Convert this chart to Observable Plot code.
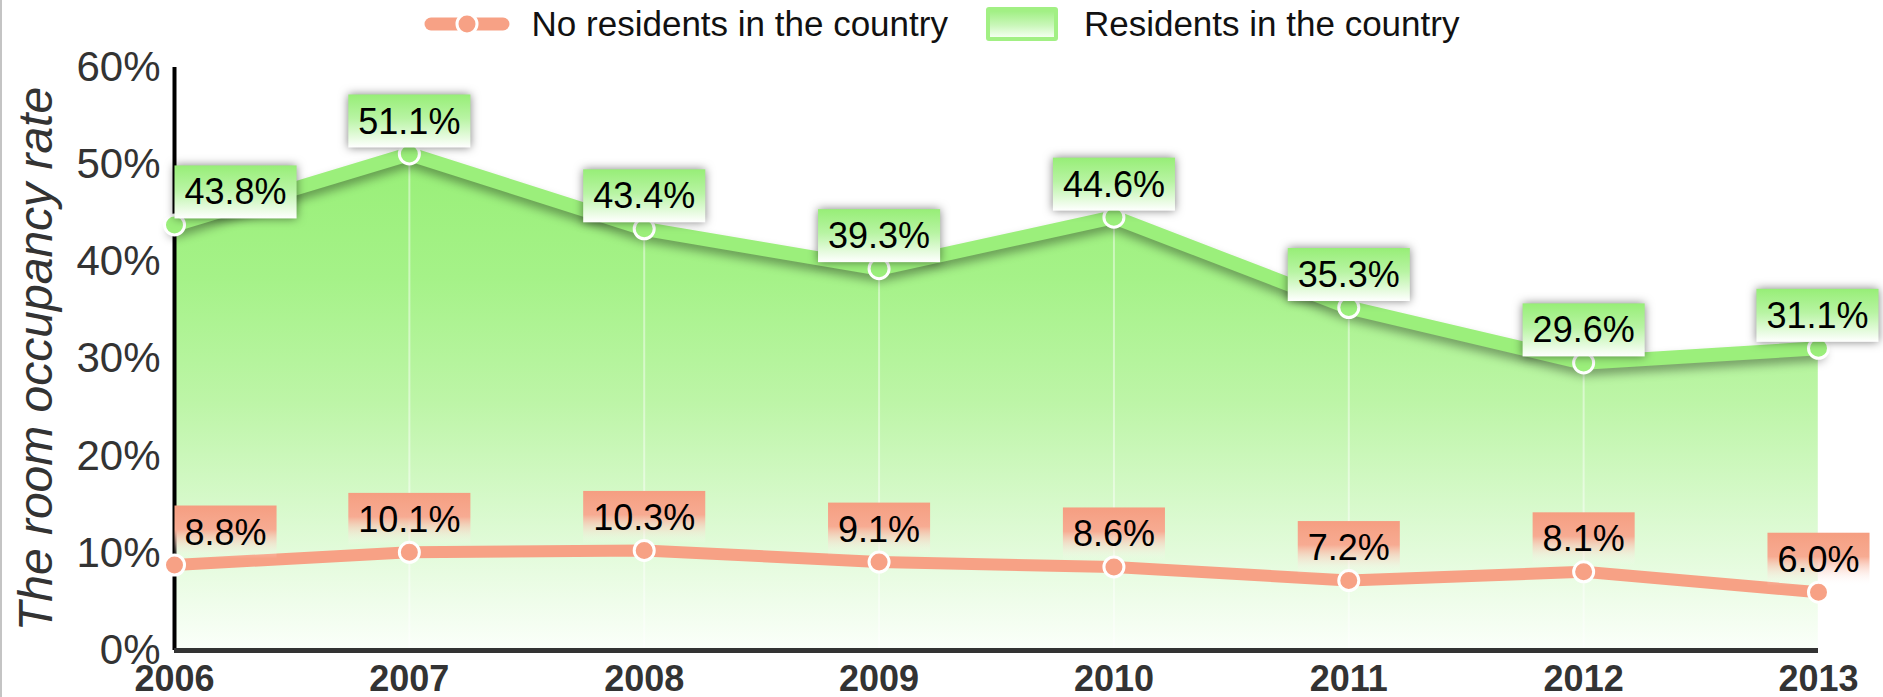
<!DOCTYPE html>
<html>
<head>
<meta charset="utf-8">
<script src="https://cdn.jsdelivr.net/npm/d3@7"></script>
<script src="https://cdn.jsdelivr.net/npm/@observablehq/plot@0.6"></script>
<style>
  html, body { margin: 0; padding: 0; background: #fff; overflow: hidden; }
  body { font-family: "Liberation Sans", Arial, sans-serif; }
  #wrap { position: relative; width: 1883px; height: 697px; }
  #edge { position: absolute; left: 0; top: 0; width: 2px; height: 697px; background: #c4c4c4; }
  #legend { height: 48px; display: flex; align-items: center; justify-content: center; font-size: 35px; color: #111; }
  #legend .item { display: flex; align-items: center; }
  #legend .swatch-rect { width: 72px; height: 34px; box-sizing: border-box; border: 4px solid #a2f084; border-radius: 3px;
    background: linear-gradient(#a1f084 0%, #c9f7b9 55%, #f4fff0 100%); margin-left: 38px; }
  #legend .lab1 { margin-left: 22px; }
  #legend .lab2 { margin-left: 26px; }
  #chart svg { display: block; }
</style>
</head>
<body>
<div id="wrap">
  <svg width="0" height="0" style="position:absolute">
    <defs>
      <linearGradient id="areaGrad" x1="0" y1="0" x2="0" y2="1">
        <stop offset="0" stop-color="#98ef77"/>
        <stop offset="0.25" stop-color="#a5f288"/>
        <stop offset="0.5" stop-color="#bdf5a7"/>
        <stop offset="0.75" stop-color="#dcfad2"/>
        <stop offset="1" stop-color="#fbfffa"/>
      </linearGradient>
      <linearGradient id="greenBox" x1="0" y1="0" x2="0" y2="1">
        <stop offset="0" stop-color="#97ee77"/>
        <stop offset="0.45" stop-color="#b8f4a3"/>
        <stop offset="1" stop-color="#ffffff"/>
      </linearGradient>
      <linearGradient id="orangeBox" x1="0" y1="0" x2="0" y2="1">
        <stop offset="0" stop-color="#f59e81"/>
        <stop offset="0.45" stop-color="#f7ab92"/>
        <stop offset="1" stop-color="#ffffff" stop-opacity="0"/>
      </linearGradient>
    </defs>
  </svg>
  <div id="legend"></div>
  <div id="chart"></div>
  <div id="edge"></div>
</div>
<script>
// ---- data ----
const years = [2006, 2007, 2008, 2009, 2010, 2011, 2012, 2013];
const residents = [43.8, 51.1, 43.4, 39.3, 44.6, 35.3, 29.6, 31.1];
const nonResidents = [8.8, 10.1, 10.3, 9.1, 8.6, 7.2, 8.1, 6.0];
const yTicks = [0, 10, 20, 30, 40, 50, 60];
const seriesNames = ["No residents in the country", "Residents in the country"];
const yLabel = "The room occupancy rate";

const green = "#9bef7b";
const orange = "#f7a185";

const rows = years.map((year, i) => ({year, residents: residents[i], nonResidents: nonResidents[i]}));

// ---- legend ----
const legend = document.getElementById("legend");
legend.innerHTML = `
  <div class="item">
    <svg width="86" height="30" viewBox="0 0 86 30">
      <line x1="7" y1="15" x2="79" y2="15" stroke="${orange}" stroke-width="13" stroke-linecap="round"/>
      <circle cx="43" cy="15" r="10" fill="${orange}" stroke="#fff" stroke-width="3"/>
    </svg>
    <span class="lab1">${seriesNames[0]}</span>
  </div>
  <div class="item">
    <div class="swatch-rect"></div>
    <span class="lab2">${seriesNames[1]}</span>
  </div>`;

// ---- chart ----
const W = 1883, H = 649, ML = 174, MR = 65, MT = 19, MB = 47;

const plot = Plot.plot({
  width: W,
  height: H,
  marginLeft: ML,
  marginRight: MR,
  marginTop: MT,
  marginBottom: MB,
  style: {fontFamily: '"Liberation Sans", Arial, sans-serif', background: "white", overflow: "visible"},
  x: {type: "linear", domain: [years[0], years[years.length - 1]]},
  y: {domain: [yTicks[0], yTicks[yTicks.length - 1]]},
  marks: [
    Plot.areaY(rows, {x: "year", y: "residents", fill: "url(#areaGrad)", ariaDescription: "green-area"}),
    Plot.ruleX(rows, {x: "year", y1: 0, y2: "residents", stroke: "white", strokeOpacity: 0.45, strokeWidth: 2}),
    Plot.ruleX([years[0]], {stroke: "black", strokeWidth: 4}),
    Plot.ruleY([0], {stroke: "#333", strokeWidth: 5}),
    Plot.axisY({ticks: yTicks, tickFormat: d => d + "%", tickSize: 0, tickPadding: 14, fontSize: 42, color: "#333", label: null}),
    Plot.axisX({ticks: years, tickFormat: d => String(d), tickSize: 0, tickPadding: 15, fontSize: 36, fontWeight: "bold", color: "#333", label: null}),
    Plot.text([yLabel], {frameAnchor: "left", textAnchor: "middle", dx: -138, rotate: -90, fontSize: 48, fontStyle: "italic", fill: "#333"}),
    Plot.lineY(rows, {x: "year", y: "residents", stroke: green, strokeWidth: 14, ariaDescription: "green-line"}),
    Plot.lineY(rows, {x: "year", y: "nonResidents", stroke: orange, strokeWidth: 12}),
    Plot.dot(rows, {x: "year", y: "residents", r: 10, fill: green, stroke: "white", strokeWidth: 3}),
    Plot.dot(rows, {x: "year", y: "nonResidents", r: 10, fill: orange, stroke: "white", strokeWidth: 3}),
    Plot.text(rows, {x: "year", y: "residents", text: d => d.residents.toFixed(1) + "%", dy: -32, fontSize: 36, fill: "black", ariaDescription: "green-labels"}),
    Plot.text(rows, {x: "year", y: "nonResidents", text: d => d.nonResidents.toFixed(1) + "%", dy: -32, fontSize: 36, fill: "black", ariaDescription: "orange-labels"})
  ]
});
document.getElementById("chart").appendChild(plot);

// shadow under the green line
const gl = plot.querySelector('[aria-description="green-line"]');
if (gl) gl.style.filter = "drop-shadow(0px 6px 5px rgba(0,0,0,0.35))";

// label boxes behind the value labels
const NS = "http://www.w3.org/2000/svg";
function addBoxes(label, grad, shadow) {
  const g = plot.querySelector(`[aria-description="${label}"]`);
  if (!g) return;
  const padX = 10, padY = 6;
  const minX = ML, maxX = W - 5;
  for (const t of Array.from(g.querySelectorAll("text"))) {
    const tr = t.getAttribute("transform");
    let tx = 0, ty = 0;
    if (tr) {
      const m = tr.match(/translate\(\s*([-\d.e]+)[\s,]+([-\d.e]+)\s*\)/);
      if (m) { tx = +m[1]; ty = +m[2]; }
    }
    const bb = t.getBBox();
    const left = tx + bb.x - padX, right = tx + bb.x + bb.width + padX;
    let shift = 0;
    if (left < minX) shift = minX - left;
    else if (right > maxX) shift = maxX - right;
    if (shift) {
      if (tr) t.setAttribute("transform", tr.replace(/translate\([^)]*\)/, `translate(${tx + shift},${ty})`));
      else t.setAttribute("x", (+t.getAttribute("x") || 0) + shift);
    }
    const r = document.createElementNS(NS, "rect");
    r.setAttribute("x", bb.x - padX + (tr ? 0 : shift));
    r.setAttribute("y", bb.y - padY);
    r.setAttribute("width", bb.width + 2 * padX);
    r.setAttribute("height", bb.height + 2 * padY);
    r.setAttribute("fill", `url(#${grad})`);
    r.setAttribute("stroke", "none");
    if (tr) r.setAttribute("transform", t.getAttribute("transform"));
    if (shadow) r.style.filter = shadow;
    g.insertBefore(r, t);
  }
}
addBoxes("green-labels", "greenBox", "drop-shadow(0px 0px 5px rgba(0,0,0,0.5))");
addBoxes("orange-labels", "orangeBox", null);
</script>
</body>
</html>
